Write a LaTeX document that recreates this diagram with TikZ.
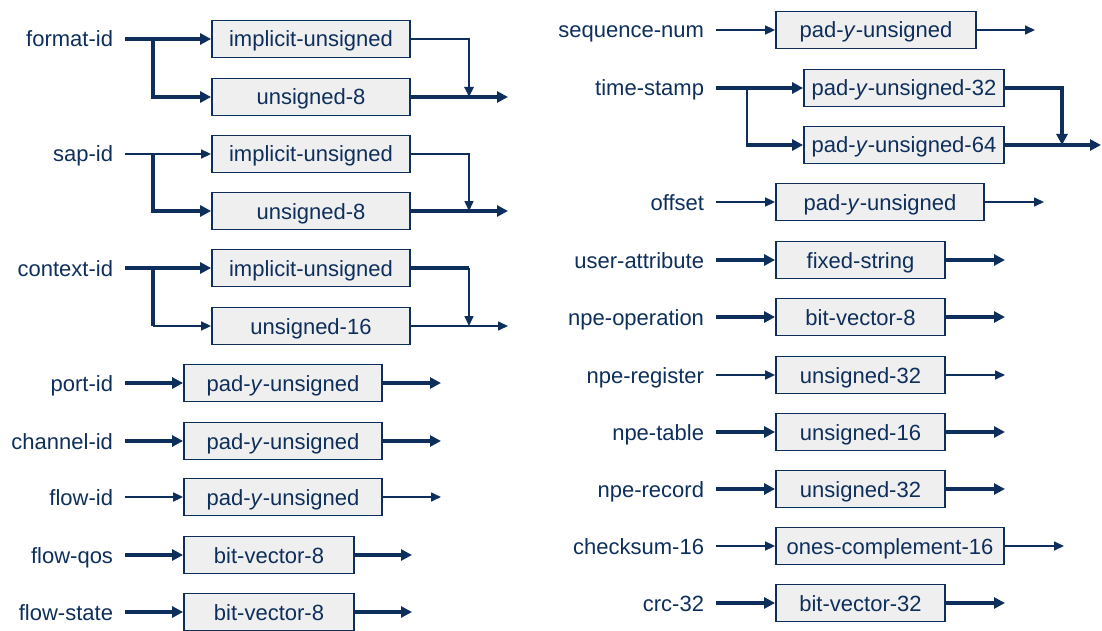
\documentclass[tikz,border=0pt]{standalone}
\usepackage{fontspec}
\setmainfont{Liberation Sans}
\usetikzlibrary{arrows.meta}
\definecolor{navy}{HTML}{0E2F5C}
\definecolor{boxfill}{HTML}{EFEFEF}
\begin{document}
\begin{tikzpicture}[x=1pt,y=-1pt,
  every node/.style={font=\fontsize{22}{26}\selectfont, text=navy, text height=16pt, text depth=0pt},
  lbl/.style={anchor=east, inner xsep=12pt, inner ysep=0pt, outer sep=0pt},
  tbox/.style={draw=navy, fill=boxfill, line width=1.8pt, minimum height=37pt, inner sep=0pt},
  thk/.style={draw=navy, line width=3.2pt},
  med/.style={draw=navy, line width=2.4pt},
  thn/.style={draw=navy, line width=1.6pt},
  tipk/.style={-{Triangle[length=11pt,width=11pt]}},
  tipn/.style={-{Triangle[length=10pt,width=9pt]}},
]
\useasboundingbox (0,0) rectangle (1102,631);

% ---------- format-id ----------
\node[lbl] (fid) at (125,39) {format-id};
\node[tbox, minimum width=198pt] (fid1) at (311,39) {implicit-unsigned};
\node[tbox, minimum width=198pt] (fid2) at (311,97) {unsigned-8};
\coordinate (fidb) at (153,39);
\coordinate (fidj) at (469,97);
\coordinate (fide) at (508,97);
\draw[thk,tipk] (fid.east) -- (fid1.west);
\draw[thk,tipk] (fidb) |- (fid2.west);
\draw[med,tipn] (fid1.east) -| (fidj);
\draw[thk,tipk] (fid2.east) -- (fide);

% ---------- sap-id ----------
\node[lbl] (sid) at (125,154) {sap-id};
\node[tbox, minimum width=198pt] (sid1) at (311,154) {implicit-unsigned};
\node[tbox, minimum width=198pt] (sid2) at (311,211) {unsigned-8};
\coordinate (sidb) at (153,154);
\coordinate (sidj) at (469,211);
\coordinate (side) at (508,211);
\draw[thn,tipn] (sid.east) -- (sid1.west);
\draw[thk,tipk] (sidb) |- (sid2.west);
\draw[thn,tipn] (sid1.east) -| (sidj);
\draw[thk,tipk] (sid2.east) -- (side);

% ---------- context-id ----------
\node[lbl] (cid) at (125,268) {context-id};
\node[tbox, minimum width=198pt] (cid1) at (311,268) {implicit-unsigned};
\node[tbox, minimum width=198pt] (cid2) at (311,326) {unsigned-16};
\coordinate (cidb) at (153,268);
\coordinate (cidk) at (153,326);
\coordinate (cidj) at (469,326);
\coordinate (cide) at (508,326);
\draw[thk,tipk] (cid.east) -- (cid1.west);
\draw[thk] (cidb) -- (cidk);
\draw[thn,tipn] (cidk) -- (cid2.west);
\draw[thk] (cid1.east) -- (cid1.east -| cidj);
\draw[thn,tipn] (cid1.east -| cidj) -- (cidj);
\draw[thn,tipn] (cid2.east) -- (cide);

% ---------- single rows, left ----------
\node[lbl] (pid) at (125,383) {port-id};
\node[tbox, minimum width=198pt] (pidb) at (283,383) {pad-\textit{y}-unsigned};
\coordinate (pide) at (441,383);
\draw[thk,tipk] (pid.east) -- (pidb.west);
\draw[thk,tipk] (pidb.east) -- (pide);

\node[lbl] (chid) at (125,441) {channel-id};
\node[tbox, minimum width=198pt] (chidb) at (283,441) {pad-\textit{y}-unsigned};
\coordinate (chide) at (441,441);
\draw[thk,tipk] (chid.east) -- (chidb.west);
\draw[thk,tipk] (chidb.east) -- (chide);

\node[lbl] (flid) at (125,497) {flow-id};
\node[tbox, minimum width=198pt] (flidb) at (283,497) {pad-\textit{y}-unsigned};
\coordinate (flide) at (441,497);
\draw[thn,tipn] (flid.east) -- (flidb.west);
\draw[thn,tipn] (flidb.east) -- (flide);

\node[lbl] (fqos) at (125,555) {flow-qos};
\node[tbox, minimum width=170pt] (fqosb) at (269,555) {bit-vector-8};
\coordinate (fqose) at (412,555);
\draw[thk,tipk] (fqos.east) -- (fqosb.west);
\draw[thk,tipk] (fqosb.east) -- (fqose);

\node[lbl] (fst) at (125,612) {flow-state};
\node[tbox, minimum width=170pt] (fstb) at (269,612) {bit-vector-8};
\coordinate (fste) at (412,612);
\draw[thk,tipk] (fst.east) -- (fstb.west);
\draw[thk,tipk] (fstb.east) -- (fste);

% ---------- right column ----------
\node[lbl] (sqn) at (716,30) {sequence-num};
\node[tbox, minimum width=200pt] (sqnb) at (876,30) {pad-\textit{y}-unsigned};
\coordinate (sqne) at (1035,30);
\draw[thn,tipn] (sqn.east) -- (sqnb.west);
\draw[thn,tipn] (sqnb.east) -- (sqne);

\node[lbl] (ts) at (716,88) {time-stamp};
\node[tbox, minimum width=200pt] (ts1) at (904,88) {pad-\textit{y}-unsigned-32};
\node[tbox, minimum width=200pt] (ts2) at (904,145) {pad-\textit{y}-unsigned-64};
\coordinate (tsb) at (747,88);
\coordinate (tsk) at (747,145);
\coordinate (tsj) at (1062,145);
\coordinate (tse) at (1101,145);
\draw[thk,tipk] (ts.east) -- (ts1.west);
\draw[thn] (tsb) -- (tsk);
\draw[thk,tipk] ([xshift=-0.8pt]tsk) -- (ts2.west);
\draw[thk,tipk] (ts1.east) -| (tsj);
\draw[thk,tipk] (ts2.east) -- (tse);

\node[lbl] (ofs) at (716,202) {offset};
\node[tbox, minimum width=208pt] (ofsb) at (880,202) {pad-\textit{y}-unsigned};
\coordinate (ofse) at (1044,202);
\draw[thn,tipn] (ofs.east) -- (ofsb.west);
\draw[thn,tipn] (ofsb.east) -- (ofse);

\node[lbl] (ua) at (716,260) {user-attribute};
\node[tbox, minimum width=169pt] (uab) at (860.5,260) {fixed-string};
\coordinate (uae) at (1005,260);
\draw[thk,tipk] (ua.east) -- (uab.west);
\draw[thk,tipk] (uab.east) -- (uae);

\node[lbl] (nop) at (716,317) {npe-operation};
\node[tbox, minimum width=169pt] (nopb) at (860.5,317) {bit-vector-8};
\coordinate (nope) at (1005,317);
\draw[thk,tipk] (nop.east) -- (nopb.west);
\draw[thk,tipk] (nopb.east) -- (nope);

\node[lbl] (nrg) at (716,375) {npe-register};
\node[tbox, minimum width=169pt] (nrgb) at (860.5,375) {unsigned-32};
\coordinate (nrge) at (1005,375);
\draw[thn,tipn] (nrg.east) -- (nrgb.west);
\draw[thn,tipn] (nrgb.east) -- (nrge);

\node[lbl] (ntb) at (716,432) {npe-table};
\node[tbox, minimum width=169pt] (ntbb) at (860.5,432) {unsigned-16};
\coordinate (ntbe) at (1005,432);
\draw[thk,tipk] (ntb.east) -- (ntbb.west);
\draw[thk,tipk] (ntbb.east) -- (ntbe);

\node[lbl] (nrc) at (716,489) {npe-record};
\node[tbox, minimum width=169pt] (nrcb) at (860.5,489) {unsigned-32};
\coordinate (nrce) at (1005,489);
\draw[thk,tipk] (nrc.east) -- (nrcb.west);
\draw[thk,tipk] (nrcb.east) -- (nrce);

\node[lbl] (cks) at (716,546) {checksum-16};
\node[tbox, minimum width=228pt] (cksb) at (890,546) {ones-complement-16};
\coordinate (ckse) at (1064,546);
\draw[thn,tipn] (cks.east) -- (cksb.west);
\draw[thn,tipn] (cksb.east) -- (ckse);

\node[lbl] (crc) at (716,603) {crc-32};
\node[tbox, minimum width=169pt] (crcb) at (860.5,603) {bit-vector-32};
\coordinate (crce) at (1005,603);
\draw[thk,tipk] (crc.east) -- (crcb.west);
\draw[thk,tipk] (crcb.east) -- (crce);
\end{tikzpicture}
\end{document}
